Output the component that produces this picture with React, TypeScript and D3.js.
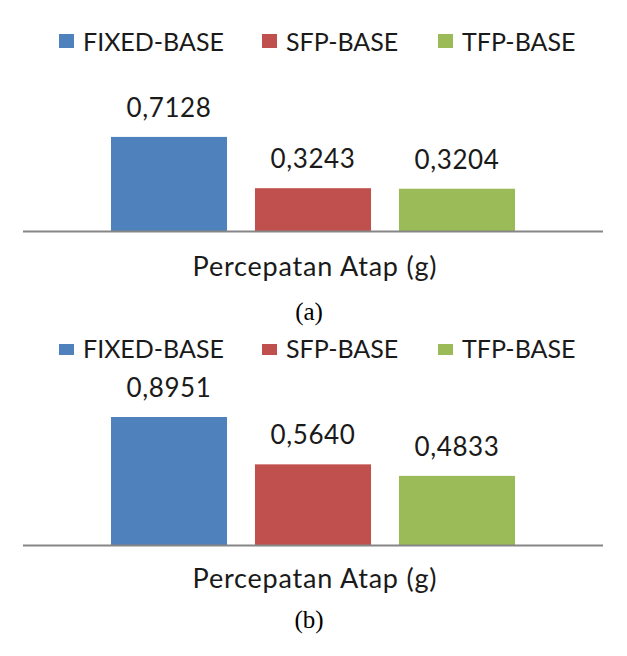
import React, { useEffect, useRef } from 'react';
import * as d3 from 'd3';

// Roof acceleration (g) for the three base systems, two load cases
const seriesNames = ['FIXED-BASE', 'SFP-BASE', 'TFP-BASE'];
const seriesColors = ['#4f81bd', '#c0504d', '#9bbb59'];
const valuesA = [0.7128, 0.3243, 0.3204];
const valuesB = [0.8951, 0.564, 0.4833];
const axisTitle = 'Percepatan Atap (g)';

const font = 'Lato, "Open Sans", sans-serif';

function drawPanel(svg, opts) {
    const g = svg.append('g');

    // legend row
    const legendX = [59, 262, 438];
    seriesNames.forEach((name, i) => {
        g.append('rect')
            .attr('x', legendX[i])
            .attr('y', opts.legendY)
            .attr('width', 15)
            .attr('height', opts.legendBox)
            .style('fill', seriesColors[i]);
        g.append('text')
            .attr('x', legendX[i] + 24)
            .attr('y', opts.legendBase)
            .style('font-family', font)
            .style('font-size', opts.legendSize + 'px')
            .style('fill', '#1a1a1a')
            .text(name);
    });

    const xScale = d3.scaleBand()
        .domain(seriesNames)
        .range([23, 603])
        .paddingInner(0.194)
        .paddingOuter(0.611);

    const yScale = d3.scaleLinear()
        .domain([0, opts.yMax])
        .range([opts.baseline, opts.baseline - opts.plotHeight]);

    g.selectAll('rect.bar')
        .data(opts.values)
        .enter()
        .append('rect')
        .attr('class', 'bar')
        .attr('x', (d, i) => xScale(seriesNames[i]))
        .attr('y', d => yScale(d))
        .attr('width', xScale.bandwidth())
        .attr('height', d => opts.baseline - yScale(d))
        .style('fill', (d, i) => seriesColors[i]);

    g.selectAll('text.value')
        .data(opts.values)
        .enter()
        .append('text')
        .attr('class', 'value')
        .attr('x', (d, i) => xScale(seriesNames[i]) + xScale.bandwidth() / 2)
        .attr('y', d => yScale(d) - 20)
        .attr('text-anchor', 'middle')
        .style('font-family', font)
        .style('font-size', '26px')
        .style('letter-spacing', '0.6px')
        .style('fill', '#1a1a1a')
        .text(d => d.toFixed(4).replace('.', ','));

    // category axis line
    g.append('line')
        .attr('x1', 23)
        .attr('x2', 603)
        .attr('y1', opts.baseline + 0.5)
        .attr('y2', opts.baseline + 0.5)
        .style('stroke', '#868686')
        .style('stroke-width', 2);

    g.append('text')
        .attr('x', 315)
        .attr('y', opts.baseline + opts.titleGap)
        .attr('text-anchor', 'middle')
        .style('font-family', font)
        .style('font-size', '27px')
        .style('letter-spacing', '0.8px')
        .style('fill', '#1a1a1a')
        .text(axisTitle);

    g.append('text')
        .attr('x', 309)
        .attr('y', opts.baseline + opts.captionGap)
        .attr('text-anchor', 'middle')
        .style('font-family', '"Liberation Serif", "Times New Roman", serif')
        .style('font-size', '25px')
        .style('fill', '#000')
        .text(opts.caption);
}

export default function App() {
    const ref = useRef(null);

    useEffect(() => {
        const svg = d3.select(ref.current);
        svg.selectAll('*').remove();

        drawPanel(svg, {
            legendY: 34, legendBox: 14, legendBase: 51, legendSize: 25,
            values: valuesA, yMax: 0.8, baseline: 231, plotHeight: 105.6,
            titleGap: 45, captionGap: 89, caption: '(a)'
        });
        drawPanel(svg, {
            legendY: 344, legendBox: 11, legendBase: 358, legendSize: 25,
            values: valuesB, yMax: 1, baseline: 545, plotHeight: 143,
            titleGap: 43, captionGap: 83, caption: '(b)'
        });
    }, []);

    return (
        <svg ref={ref} width={627} height={656}
            style={{position: 'absolute', left: 0, top: 0, background: '#fff'}} />
    );
}
